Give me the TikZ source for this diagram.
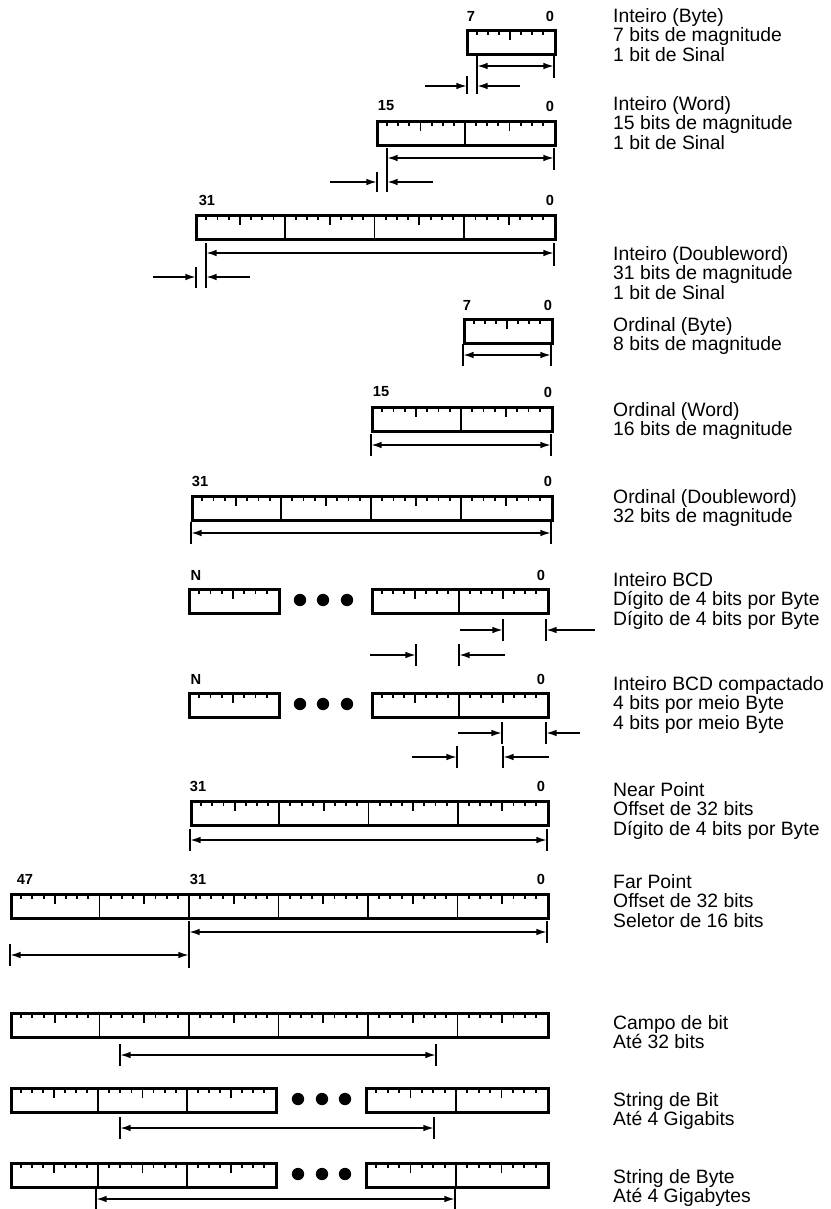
\documentclass[tikz,border=0pt]{standalone}
\usepackage{fontspec}
\setmainfont{Liberation Sans}
\usetikzlibrary{arrows.meta}
\tikzset{
  field/.style={
    draw,
    line width=2.6pt,
    inner sep=0pt,
    minimum height=7.2mm,
    anchor=north west
  },
  divider/.style={line width=1.6pt},
  tick/.style={line width=1.6pt},
  stopbar/.style={line width=1.7pt},
  bitno/.style={
    inner sep=0pt,
    font=\fontsize{12.5}{12.5}\selectfont\bfseries
  },
  desc/.style={
    align=left,
    anchor=north west,
    inner sep=0pt,
    font=\fontsize{16.5}{16.6}\selectfont
  },
  bigdot/.style={circle,fill,inner sep=0pt,minimum size=3.7mm},
  dimarr/.style={{Latex[length=3.2mm,width=2mm]}-{Latex[length=3.2mm,width=2mm]},line width=1.5pt},
  signarr/.style={-{Latex[length=3.2mm,width=2mm]},line width=1.5pt}
}
% campo de bits: nome, x esq, x dir, y topo, bytes
\newcommand{\bitfield}[5]{%
  \node[field,minimum width={(#3-#2)*0.3mm}] (#1) at (#2,#4) {};
  \pgfmathsetmacro{\bw}{(#3-#2)/#5}
  \foreach \nb in {1,...,#5}{
    \foreach \nt in {1,...,7}{
      \pgfmathsetmacro{\tx}{#2+(\nb-1+\nt/8)*\bw}
      \pgfmathsetmacro{\tl}{\nt==4 ? 11 : 6}
      \draw[tick] (\tx,#4) -- ++(0,\tl);
    }
    \ifnum\nb<#5
      \draw[divider] (#2+\nb*\bw,#4) -- ++(0,24);
    \fi
  }
}

\begin{document}
\begin{tikzpicture}[x=0.3mm,y=-0.3mm]
  \useasboundingbox (0,0) rectangle (831,1209);

  % Inteiro (Byte)
  \bitfield{ib}{466}{554}{29}{1}
  \node[bitno] (ib7) at (471,16) {7};
  \node[bitno] (ib0) at (550,16) {0};
  \draw[stopbar] (477,56) -- (477,94);
  \draw[stopbar] (554,56) -- (554,78);
  \draw[stopbar] (467,76) -- (467,94);
  \coordinate (ibm1) at (477,66);
  \coordinate (ibm2) at (554,66);
  \draw[dimarr] (ibm1) -- (ibm2);
  \coordinate (ibs1) at (425,86);
  \coordinate (ibs2) at (467,86);
  \coordinate (ibs3) at (520,86);
  \coordinate (ibs4) at (477,86);
  \draw[signarr] (ibs1) -- (ibs2);
  \draw[signarr] (ibs3) -- (ibs4);
  \node[desc] (ibt) at (613,8) {Inteiro (Byte)\\7 bits de magnitude\\1 bit de Sinal};

  % Inteiro (Word)
  \bitfield{iw}{376}{554}{120}{2}
  \node[bitno] (iw15) at (386,106) {15};
  \node[bitno] (iw0) at (550,106) {0};
  \draw[stopbar] (387,148) -- (387,192);
  \draw[stopbar] (554,148) -- (554,170);
  \draw[stopbar] (377,172) -- (377,192);
  \coordinate (iwm1) at (387,158);
  \coordinate (iwm2) at (554,158);
  \draw[dimarr] (iwm1) -- (iwm2);
  \coordinate (iws1) at (330,182);
  \coordinate (iws2) at (377,182);
  \coordinate (iws3) at (433,182);
  \coordinate (iws4) at (387,182);
  \draw[signarr] (iws1) -- (iws2);
  \draw[signarr] (iws3) -- (iws4);
  \node[desc] (iwt) at (613,96) {Inteiro (Word)\\15 bits de magnitude\\1 bit de Sinal};

  % Inteiro (Doubleword)
  \bitfield{id}{195}{554}{214}{4}
  \node[bitno] (id31) at (207,200) {31};
  \node[bitno] (id0) at (550,200) {0};
  \draw[stopbar] (206,243) -- (206,288);
  \draw[stopbar] (554,243) -- (554,266);
  \draw[stopbar] (196,267) -- (196,288);
  \coordinate (idm1) at (206,253);
  \coordinate (idm2) at (554,253);
  \draw[dimarr] (idm1) -- (idm2);
  \coordinate (ids1) at (153,277);
  \coordinate (ids2) at (196,277);
  \coordinate (ids3) at (250,277);
  \coordinate (ids4) at (206,277);
  \draw[signarr] (ids1) -- (ids2);
  \draw[signarr] (ids3) -- (ids4);
  \node[desc] (idt) at (613,246) {Inteiro (Doubleword)\\31 bits de magnitude\\1 bit de Sinal};

  % Ordinal (Byte)
  \bitfield{ob}{463}{551}{318}{1}
  \node[bitno] (ob7) at (467,305) {7};
  \node[bitno] (ob0) at (548,305) {0};
  \draw[stopbar] (463,344) -- (463,366);
  \draw[stopbar] (551,344) -- (551,366);
  \coordinate (obm1) at (463,355);
  \coordinate (obm2) at (551,355);
  \draw[dimarr] (obm1) -- (obm2);
  \node[desc] (obt) at (613,317) {Ordinal (Byte)\\8 bits de magnitude};

  % Ordinal (Word)
  \bitfield{ow}{371}{551}{406}{2}
  \node[bitno] (ow15) at (381,392) {15};
  \node[bitno] (ow0) at (548,392) {0};
  \draw[stopbar] (371,434) -- (371,456);
  \draw[stopbar] (551,434) -- (551,456);
  \coordinate (owm1) at (371,445);
  \coordinate (owm2) at (551,445);
  \draw[dimarr] (owm1) -- (owm2);
  \node[desc] (owt) at (613,402) {Ordinal (Word)\\16 bits de magnitude};

  % Ordinal (Doubleword)
  \bitfield{od}{191}{551}{495}{4}
  \node[bitno] (od31) at (200,481) {31};
  \node[bitno] (od0) at (548,481) {0};
  \draw[stopbar] (191,522) -- (191,544);
  \draw[stopbar] (551,522) -- (551,544);
  \coordinate (odm1) at (191,533);
  \coordinate (odm2) at (551,533);
  \draw[dimarr] (odm1) -- (odm2);
  \node[desc] (odt) at (613,489) {Ordinal (Doubleword)\\32 bits de magnitude};

  % Inteiro BCD
  \bitfield{bcda}{188}{278}{588}{1}
  \bitfield{bcdb}{371}{547}{588}{2}
  \node[bigdot] (bcdp1) at (300,600) {};
  \node[bigdot] (bcdp2) at (323,600) {};
  \node[bigdot] (bcdp3) at (347,600) {};
  \node[bitno] (bcdn) at (196,575) {N};
  \node[bitno] (bcd0) at (541,575) {0};
  \draw[stopbar] (503,619) -- (503,641);
  \draw[stopbar] (546,619) -- (546,641);
  \draw[stopbar] (416,644) -- (416,666);
  \draw[stopbar] (459,644) -- (459,666);
  \coordinate (bcds1) at (460,630);
  \coordinate (bcds2) at (503,630);
  \coordinate (bcds3) at (595,630);
  \coordinate (bcds4) at (546,630);
  \coordinate (bcds5) at (370,655);
  \coordinate (bcds6) at (416,655);
  \coordinate (bcds7) at (505,655);
  \coordinate (bcds8) at (459,655);
  \draw[signarr] (bcds1) -- (bcds2);
  \draw[signarr] (bcds3) -- (bcds4);
  \draw[signarr] (bcds5) -- (bcds6);
  \draw[signarr] (bcds7) -- (bcds8);
  \node[desc] (bcdt) at (613,572) {Inteiro BCD\\D\'{\i}gito de 4 bits por Byte\\D\'{\i}gito de 4 bits por Byte};

  % Inteiro BCD compactado
  \bitfield{pcka}{188}{278}{692}{1}
  \bitfield{pckb}{371}{547}{692}{2}
  \node[bigdot] (pckp1) at (300,704) {};
  \node[bigdot] (pckp2) at (323,704) {};
  \node[bigdot] (pckp3) at (347,704) {};
  \node[bitno] (pckn) at (196,679) {N};
  \node[bitno] (pck0) at (541,679) {0};
  \draw[stopbar] (502,722) -- (502,744);
  \draw[stopbar] (546,722) -- (546,744);
  \draw[stopbar] (457,746) -- (457,768);
  \draw[stopbar] (503,746) -- (503,768);
  \coordinate (pcks1) at (458,733);
  \coordinate (pcks2) at (502,733);
  \coordinate (pcks3) at (580,733);
  \coordinate (pcks4) at (546,733);
  \coordinate (pcks5) at (412,757);
  \coordinate (pcks6) at (457,757);
  \coordinate (pcks7) at (549,757);
  \coordinate (pcks8) at (503,757);
  \draw[signarr] (pcks1) -- (pcks2);
  \draw[signarr] (pcks3) -- (pcks4);
  \draw[signarr] (pcks5) -- (pcks6);
  \draw[signarr] (pcks7) -- (pcks8);
  \node[desc] (pckt) at (613,676) {Inteiro BCD compactado\\4 bits por meio Byte\\4 bits por meio Byte};

  % Near Point
  \bitfield{np}{190}{547}{800}{4}
  \node[bitno] (np31) at (198,786) {31};
  \node[bitno] (np0) at (541,786) {0};
  \draw[stopbar] (190,829) -- (190,851);
  \draw[stopbar] (547,829) -- (547,851);
  \coordinate (npm1) at (190,840);
  \coordinate (npm2) at (547,840);
  \draw[dimarr] (npm1) -- (npm2);
  \node[desc] (npt) at (613,782) {Near Point\\Offset de 32 bits\\D\'{\i}gito de 4 bits por Byte};

  % Far Point
  \bitfield{fp}{10}{547}{893}{6}
  \node[bitno] (fp47) at (25,879) {47};
  \node[bitno] (fp31) at (198,879) {31};
  \node[bitno] (fp0) at (541,879) {0};
  \draw[stopbar] (189,921) -- (189,968);
  \draw[stopbar] (547,921) -- (547,943);
  \draw[stopbar] (10,944) -- (10,966);
  \coordinate (fpm1) at (189,932);
  \coordinate (fpm2) at (547,932);
  \coordinate (fpm3) at (10,955);
  \coordinate (fpm4) at (189,955);
  \draw[dimarr] (fpm1) -- (fpm2);
  \draw[dimarr] (fpm3) -- (fpm4);
  \node[desc] (fpt) at (613,874) {Far Point\\Offset de 32 bits\\Seletor de 16 bits};

  % Campo de bit
  \bitfield{cb}{10}{547}{1012}{6}
  \draw[stopbar] (120,1044) -- (120,1066);
  \draw[stopbar] (436,1044) -- (436,1066);
  \coordinate (cbm1) at (120,1055);
  \coordinate (cbm2) at (436,1055);
  \draw[dimarr] (cbm1) -- (cbm2);
  \node[desc] (cbt) at (613,1015) {Campo de bit\\At\'e 32 bits};

  % String de Bit
  \bitfield{sba}{10}{275}{1087}{3}
  \bitfield{sbb}{365}{547}{1087}{2}
  \node[bigdot] (sbp1) at (298,1099) {};
  \node[bigdot] (sbp2) at (322,1099) {};
  \node[bigdot] (sbp3) at (345,1099) {};
  \draw[stopbar] (120,1117) -- (120,1139);
  \draw[stopbar] (434,1117) -- (434,1139);
  \coordinate (sbm1) at (120,1128);
  \coordinate (sbm2) at (434,1128);
  \draw[dimarr] (sbm1) -- (sbm2);
  \node[desc] (sbt) at (613,1092) {String de Bit\\At\'e 4 Gigabits};

  % String de Byte
  \bitfield{sya}{10}{275}{1162}{3}
  \bitfield{syb}{365}{547}{1162}{2}
  \node[bigdot] (syp1) at (298,1174) {};
  \node[bigdot] (syp2) at (322,1174) {};
  \node[bigdot] (syp3) at (345,1174) {};
  \draw[stopbar] (96,1189) -- (96,1209);
  \draw[stopbar] (455,1189) -- (455,1209);
  \coordinate (sym1) at (96,1199);
  \coordinate (sym2) at (455,1199);
  \draw[dimarr] (sym1) -- (sym2);
  \node[desc] (syt) at (613,1169) {String de Byte\\At\'e 4 Gigabytes};
\end{tikzpicture}
\end{document}
